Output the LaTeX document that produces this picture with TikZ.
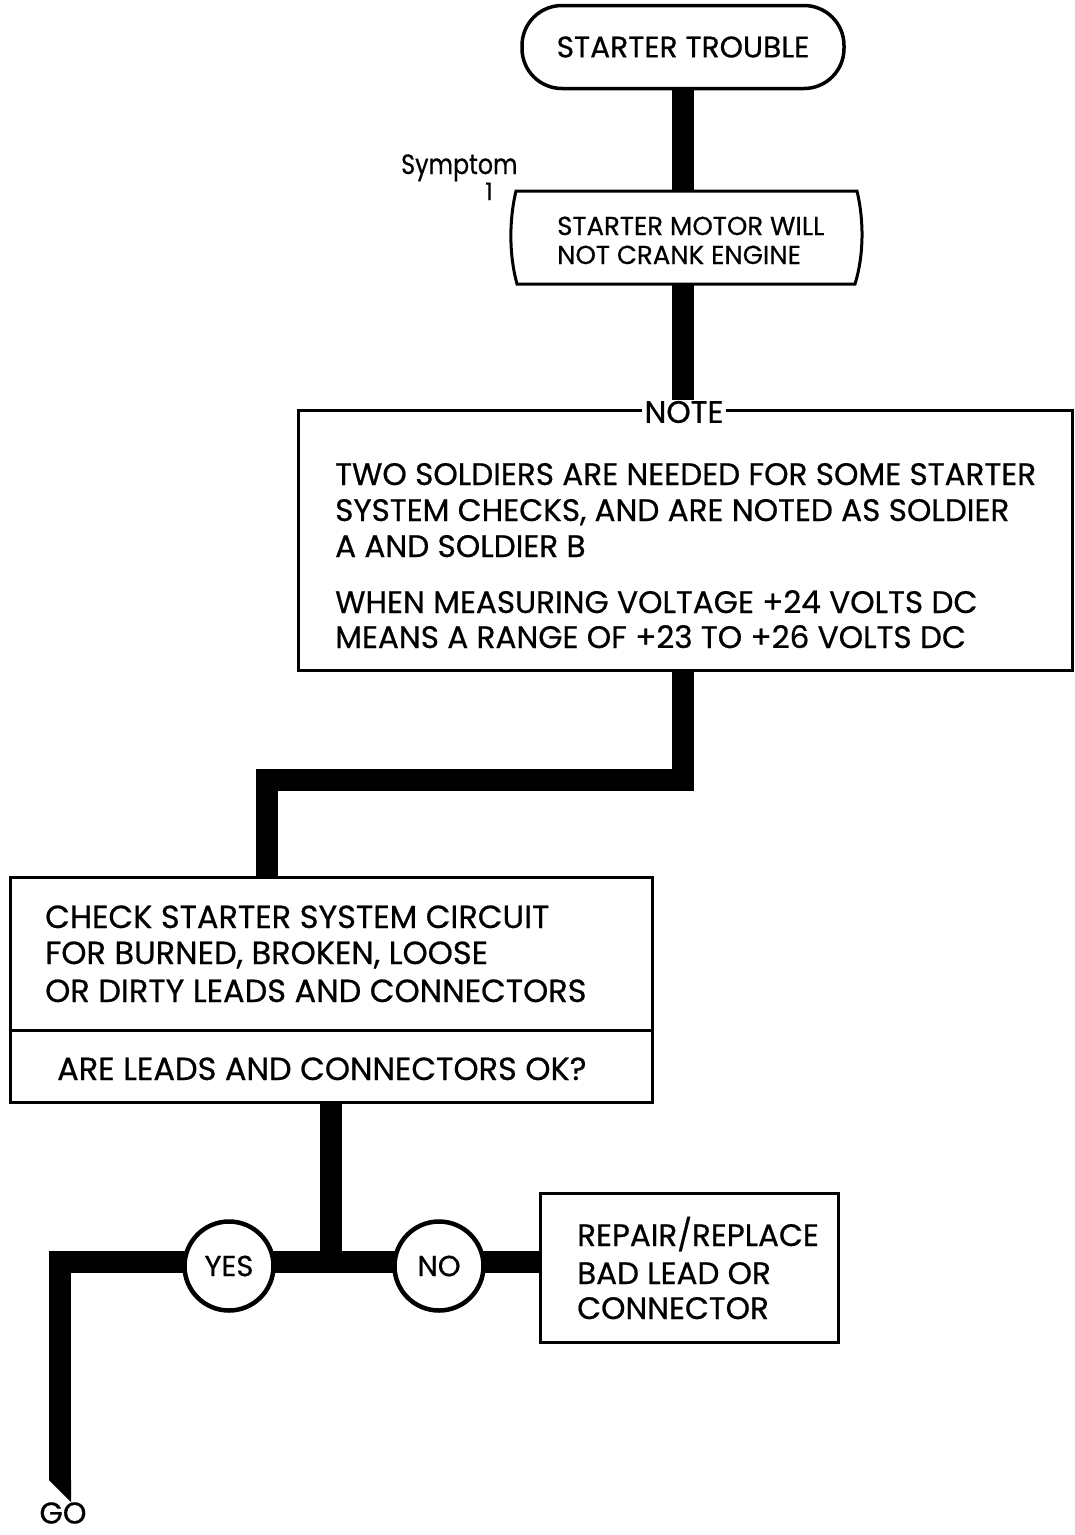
\documentclass[tikz,border=0pt]{standalone}
\usepackage{fontspec}
\setmainfont{Poppins}[FakeBold=0.6]
\newfontfamily\narrowf{Poppins}[FakeStretch=0.85,FakeBold=0.6]
\usetikzlibrary{backgrounds}
\newcommand\myfs[1]{\fontsize{#1}{#1}\selectfont}
\begin{document}
\begin{tikzpicture}[x=1pt,y=-1pt,
  conn/.style={line width=22pt, line join=miter},
  boxline/.style={draw, line width=3pt},
  lbl/.style={anchor=base west, inner sep=0pt},
  circ/.style={circle, draw, line width=4.5pt, fill=white, minimum size=89pt, inner sep=0pt, font=\myfs{29}},
]
\useasboundingbox (0,0) rectangle (1075,1535);
% nodes
\node[draw, line width=3.5pt, rounded corners=40pt, minimum width=322pt, minimum height=83pt, inner sep=0pt, font=\myfs{29.7}] (start) at (683,47) {STARTER TROUBLE};

\node[minimum width=342pt, minimum height=93pt, inner sep=0pt] (sym) at (686,237.5) {};
\draw[boxline] (516,191) -- (857,191) .. controls (864,220) and (864,255) .. (855,284) -- (517,284) .. controls (509,255) and (509,220) .. cycle;
\node[lbl, font=\myfs{26}] (symA) at (557,235) {STARTER MOTOR WILL};
\node[lbl, font=\myfs{26}] (symB) at (557,264) {NOT CRANK ENGINE};
\node[lbl, font=\narrowf\myfs{28}] (symlbl) at (401,174) {Symptom};
\node[lbl, font=\myfs{24}] (symnum) at (485,200) {1};

\node[boxline, minimum width=774pt, minimum height=260pt, inner sep=0pt] (note) at (685,540) {};
\node[fill=white, inner xsep=3pt, inner ysep=1pt, font=\myfs{31}] (notelbl) at (684,412) {NOTE};
\node[lbl, font=\myfs{31.1}] (n1) at (335,485) {TWO SOLDIERS ARE NEEDED FOR SOME STARTER};
\node[lbl, font=\myfs{31.1}] (n2) at (335,521) {SYSTEM CHECKS, AND ARE NOTED AS SOLDIER};
\node[lbl, font=\myfs{31.1}] (n3) at (335,557) {A AND SOLDIER B};
\node[lbl, font=\myfs{31.1}] (n4) at (335,613) {WHEN MEASURING VOLTAGE +24 VOLTS DC};
\node[lbl, font=\myfs{31.1}] (n5) at (335,648) {MEANS A RANGE OF +23 TO +26 VOLTS DC};

\node[boxline, minimum width=642pt, minimum height=225pt, inner sep=0pt] (check) at (331,989.5) {};
\coordinate (divider) at (331,1030);
\draw[line width=3pt] (check.west |- divider) -- (check.east |- divider);
\node[lbl, font=\myfs{32}] (c1) at (45,928) {CHECK STARTER SYSTEM CIRCUIT};
\node[lbl, font=\myfs{32}] (c2) at (45,964) {FOR BURNED, BROKEN, LOOSE};
\node[lbl, font=\myfs{32}] (c3) at (45,1002) {OR DIRTY LEADS AND CONNECTORS};
\node[lbl, font=\myfs{32}] (cq) at (57,1080) {ARE LEADS AND CONNECTORS OK?};

\node[circ] (yes) at (229,1266) {YES};
\node[circ] (no) at (439,1266) {NO};

\node[boxline, minimum width=298pt, minimum height=149pt, inner sep=0pt] (repair) at (689,1267.5) {};
\node[lbl, font=\myfs{31}] (r1) at (577,1246) {REPAIR/REPLACE};
\node[lbl, font=\myfs{31}] (r2) at (577,1284) {BAD LEAD OR};
\node[lbl, font=\myfs{31}] (r3) at (577,1319) {CONNECTOR};

\node[inner sep=0pt, font=\myfs{30}] (go) at (63,1513) {GO};

\coordinate (elbow) at (267,780);
\coordinate (junc) at (331,1262);
\coordinate (corner) at (60,1262);
\coordinate (goend) at (60,1480);

\begin{pgfonlayer}{background}
\draw[conn] (start.south) -- (start.south |- sym.north);
\draw[conn] (start.south |- sym.south) -- (start.south |- note.north);
\draw[conn] (start.south |- note.south) |- (elbow) -- (elbow |- check.north);
\draw[conn] (check.south) -- (junc);
\draw[conn] (goend) -- (corner) -- (repair.west |- corner);
\fill (goend) ++(-11,0) -- ++(22,0) -- ++(0,22) -- cycle;
\end{pgfonlayer}
\end{tikzpicture}
\end{document}
